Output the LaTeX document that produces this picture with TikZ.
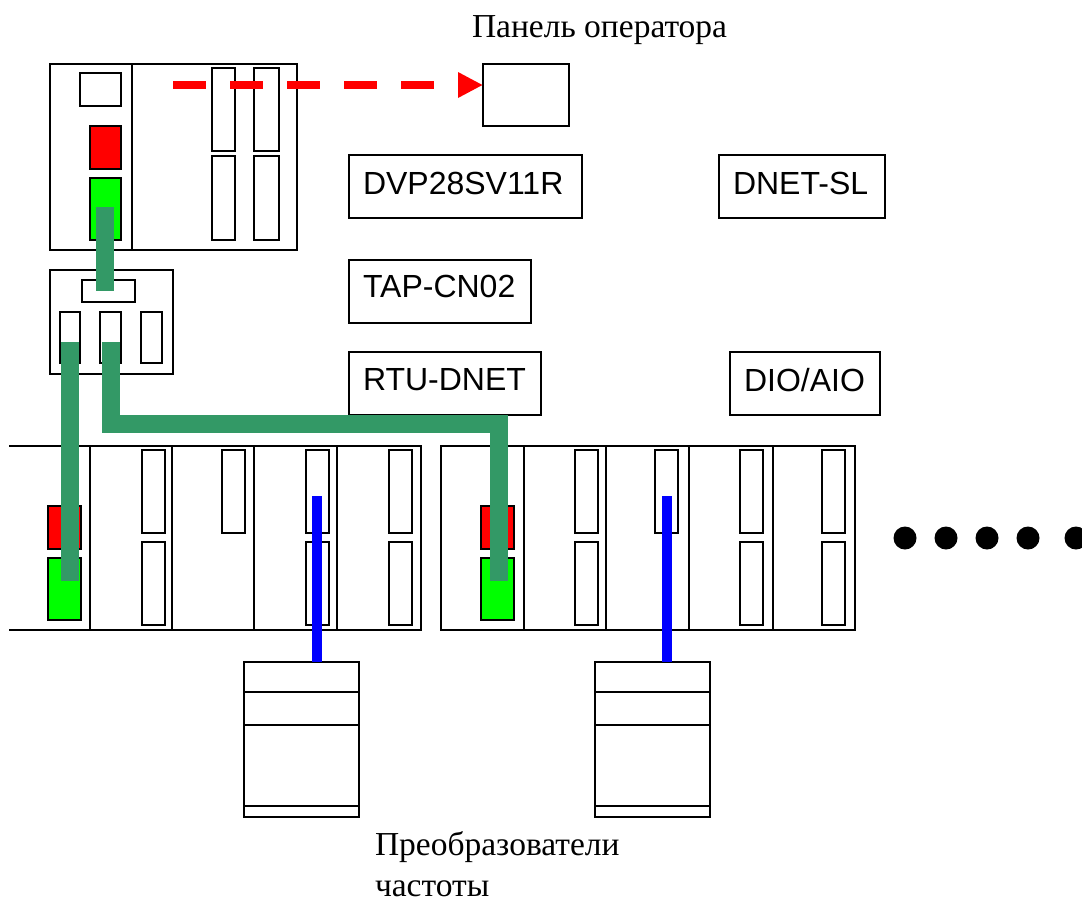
\documentclass[tikz,border=0pt]{standalone}
\usepackage{fontspec}
\setmainfont{Liberation Serif}
\setsansfont{Liberation Sans}
\usetikzlibrary{positioning, arrows.meta, calc}

\begin{document}
\begin{tikzpicture}[
    x=1pt, y=-1pt,
    every node/.style={inner sep=0pt, outer sep=0pt},
    part/.style={draw, line width=2pt, minimum width=#1},
    part/.default=23pt,
    slot/.style={part=23pt, minimum height=83pt},
    lamp/.style={part=#1, fill=red, minimum height=43pt},
    run/.style={part=#1, fill=green, minimum height=62pt},
    module/.style={part=#1, minimum height=184pt},
    tag/.style={part=#1, minimum height=63pt, align=left, text depth=7pt, font=\sffamily\fontsize{32}{38}\selectfont},
    caption/.style={font=\rmfamily\fontsize{33.5}{41}\selectfont, align=left},
    bus/.style={line width=18pt, draw=busgreen},
    drop/.style={line width=10pt, draw=blue},
    link/.style={-{Triangle[length=25pt, width=24pt]}, line width=8pt, draw=red, dash pattern=on 33pt off 24pt},
    dot/.style={circle, fill=black, minimum size=23pt},
    rule/.style={line width=2pt},
  ]
  \definecolor{busgreen}{HTML}{339966}
  \useasboundingbox (0,0) rectangle (1082,903);

  % ---- Captions ----
  \node[caption, anchor=base west] (paneltxt) at (472,37) {Панель оператора};
  \node[caption, anchor=base west] (drivetxt) at (375,896) {Преобразователи\\частоты};

  % ---- Controller ----
  \node[part=82pt, minimum height=186pt] (cpu) at (91,157) {};
  \node[part=165pt, minimum height=186pt] (cpuio) at (214.5,157) {};
  \node[part=41pt, minimum height=33pt] (screen) at (100.5,89.5) {};
  \node[lamp=31pt] (cpured) at (105.5,147) {};
  \node[run=31pt] (cpugreen) at (105.5,209) {};
  \node[slot] (sa) at (223.5,109) {};
  \node[slot, minimum height=84pt] (sb) at (223.5,198) {};
  \node[slot, minimum width=25pt] (sc) at (266.5,109) {};
  \node[slot, minimum width=25pt, minimum height=84pt] (sd) at (266.5,198) {};

  % ---- Tap ----
  \node[part=123pt, minimum height=104pt] (tap) at (111.5,322) {};
  \node[part=53pt, minimum height=22pt] (tapin) at (108.5,291) {};
  \node[part=20pt, minimum height=51pt] (porta) at (70,337.5) {};
  \node[part=21pt, minimum height=51pt, right=20pt of porta] (portb) {};
  \node[part=21pt, minimum height=51pt, right=20pt of portb] (portc) {};

  % ---- Labels ----
  \node[part=86pt, minimum height=62pt] (panel) at (526,95) {};
  \node[tag=233pt, text width=205pt] (dvp) at (465.5,186.5) {DVP28SV11R};
  \node[tag=166pt, text width=138pt] (dnet) at (802,186.5) {DNET-SL};
  \node[tag=182pt, text width=154pt, text depth=11pt] (tapcn) at (440,291.5) {TAP-CN02};
  \node[tag=192pt, text width=164pt] (rtu) at (445,383) {RTU-DNET};
  \node[tag=150pt, text width=122pt] (dio) at (805,383) {DIO/AIO};

  % ---- First rack ----
  \node[minimum width=81pt, minimum height=184pt] (ma) at (49.5,538) {};
  \draw[rule] (ma.north west) -- (ma.north east) -- (ma.south east) -- (ma.south west);
  \node[module=82pt] (mb) at (131,538) {};
  \node[module=82pt, right=0pt of mb] (mc) {};
  \node[module=83pt, right=0pt of mc] (md) {};
  \node[module=84pt, right=0pt of md] (me) {};
  \node[lamp=33pt] (ared) at (64.5,527.5) {};
  \node[run=33pt] (agreen) at (64.5,589) {};
  \foreach \name/\xpos in {ba/153.5, bb/317.5, bc/400.5} {
    \node[slot] (\name) at (\xpos,491) {};
    \node[slot] (\name l) at (\xpos,583.5) {};
  }
  \node[slot] (bd) at (233.5,491) {};

  % ---- Second rack ----
  \node[module=83pt] (na) at (482,538) {};
  \node[module=82pt, right=0pt of na] (nb) {};
  \node[module=83pt, right=0pt of nb] (nc) {};
  \node[module=84pt, right=0pt of nc] (nd) {};
  \node[module=82pt, right=0pt of nd] (ne) {};
  \node[lamp=33pt] (cred) at (497.5,527.5) {};
  \node[run=33pt] (cgreen) at (497.5,589) {};
  \foreach \name/\xpos in {da/586, db/751, dc/833.5} {
    \node[slot] (\name) at (\xpos,491) {};
    \node[slot] (\name l) at (\xpos,583.5) {};
  }
  \node[slot] (dd) at (666.5,491) {};

  % ---- Drives ----
  \node[part=115pt, minimum height=155pt] (drva) at (301.5,739.5) {};
  \node[part=115pt, minimum height=155pt] (drvb) at (652.5,739.5) {};
  \foreach \name in {drva, drvb} {
    \draw[rule] ($(\name.north west)+(0,30)$) -- ($(\name.north east)+(0,30)$);
    \draw[rule] ($(\name.north west)+(0,63)$) -- ($(\name.north east)+(0,63)$);
    \draw[rule] ($(\name.north west)+(0,144)$) -- ($(\name.north east)+(0,144)$);
  }

  % ---- Dots ----
  \node[dot] (da1) at (905,538) {};
  \node[dot, right=18pt of da1] (da2) {};
  \node[dot, right=18pt of da2] (da3) {};
  \node[dot, right=18pt of da3] (da4) {};
  \node[dot] (da5) at (1076,538) {};

  % ---- Connectors ----
  \coordinate (linkstart) at (173,85);
  \coordinate (cpuend) at (105,207);
  \coordinate (bustopa) at (70,342);
  \coordinate (bustopb) at (111,342);
  \coordinate (busenda) at (70,581);
  \coordinate (busendb) at (499,581);
  \coordinate (dropa) at (317,496);
  \coordinate (dropb) at (667,496);

  \draw[link] (linkstart) -- (linkstart -| panel.west);
  \draw[bus] (cpuend) -- (cpuend |- tapin.center);
  \draw[bus] (bustopa) -- (busenda);
  \draw[bus] (bustopb) |- (499,424) -- (busendb);
  \draw[drop] (dropa) -- (dropa |- drva.north);
  \draw[drop] (dropb) -- (dropb |- drvb.north);

\end{tikzpicture}
\end{document}
